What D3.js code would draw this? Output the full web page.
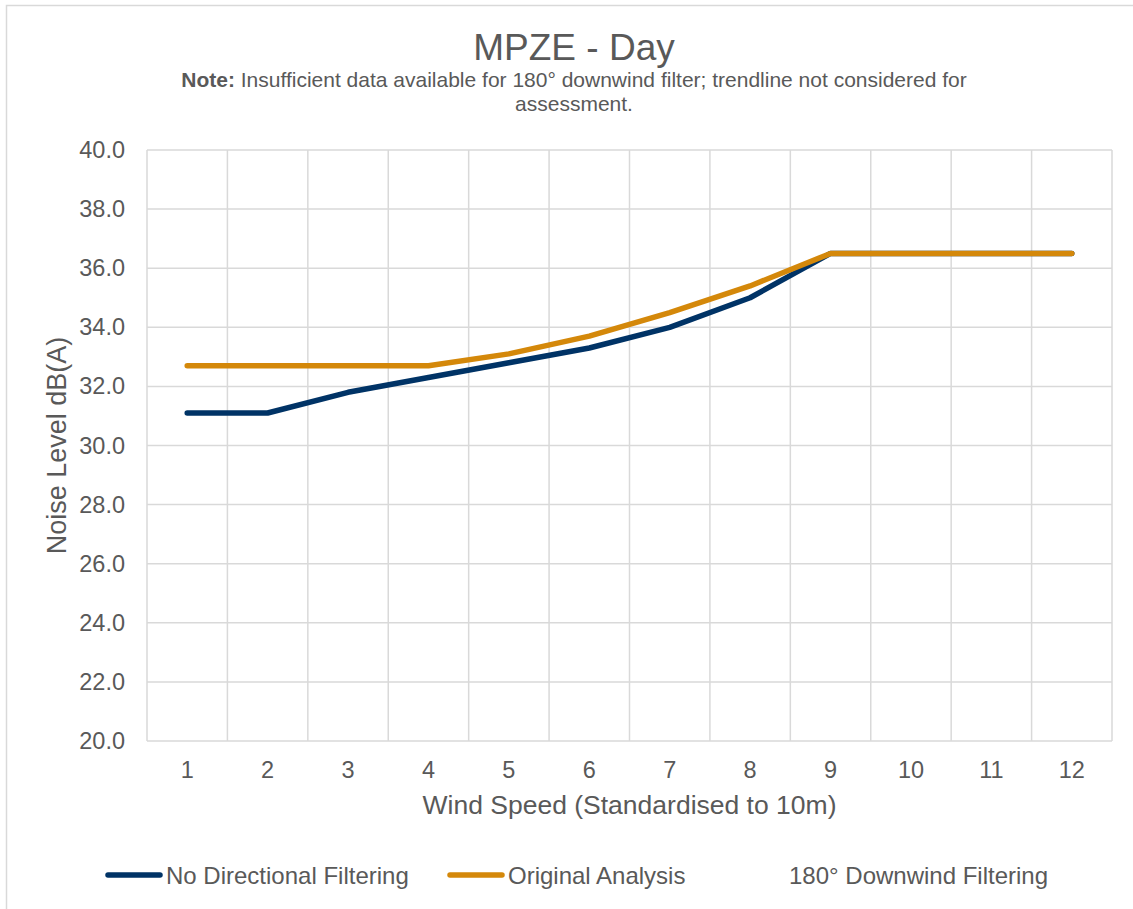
<!DOCTYPE html>
<html>
<head>
<meta charset="utf-8">
<script src="https://cdnjs.cloudflare.com/ajax/libs/d3/7.8.5/d3.min.js"></script>
<style>
  body { margin: 0; background: #fff; }
  text { font-family: "Liberation Sans", Arial, sans-serif; fill: #595959; }
</style>
</head>
<body>
<script>
// wind speed categories
var windSpeeds = [1, 2, 3, 4, 5, 6, 7, 8, 9, 10, 11, 12];
var noFiltering = [31.1, 31.1, 31.8, 32.3, 32.8, 33.3, 34.0, 35.0, 36.5, 36.5, 36.5, 36.5];
var originalAnalysis = [32.7, 32.7, 32.7, 32.7, 33.1, 33.7, 34.5, 35.4, 36.5, 36.5, 36.5, 36.5];
var downwindFiltering = []; // insufficient data
var yTicks = [20, 22, 24, 26, 28, 30, 32, 34, 36, 38, 40];

var series = [
  { name: "No Directional Filtering", values: noFiltering, color: "#003366" },
  { name: "Original Analysis", values: originalAnalysis, color: "#D4880A" },
  { name: "180\u00B0 Downwind Filtering", values: downwindFiltering, color: "none" }
];

var W = 1133, H = 909;
var plot = { left: 147, right: 1112, top: 150, bottom: 741 };

var svg = d3.select("body").append("svg")
  .attr("width", W)
  .attr("height", H);

// chart border
svg.append("rect")
  .attr("x", 6.5).attr("y", 5.5)
  .attr("width", W + 10).attr("height", H + 10)
  .attr("fill", "none")
  .attr("stroke", "#d9d9d9")
  .attr("stroke-width", 1.5);

var x = d3.scaleBand()
  .domain(windSpeeds)
  .range([plot.left, plot.right]);

var y = d3.scaleLinear()
  .domain([20, 40])
  .range([plot.bottom, plot.top]);

// horizontal gridlines
svg.append("g").selectAll("line")
  .data(yTicks)
  .enter().append("line")
  .attr("x1", plot.left).attr("x2", plot.right)
  .attr("y1", function(d) { return y(d); })
  .attr("y2", function(d) { return y(d); })
  .attr("stroke", "#d9d9d9")
  .attr("stroke-width", 1.5);

// vertical gridlines at category boundaries
var bounds = windSpeeds.map(function(d) { return x(d); }).concat([plot.right]);
svg.append("g").selectAll("line")
  .data(bounds)
  .enter().append("line")
  .attr("x1", function(d) { return d; })
  .attr("x2", function(d) { return d; })
  .attr("y1", plot.top).attr("y2", plot.bottom)
  .attr("stroke", "#d9d9d9")
  .attr("stroke-width", 1.5);

// y axis labels
var yAxis = d3.axisLeft(y).tickValues(yTicks).tickSize(0).tickPadding(22)
  .tickFormat(d3.format(".1f"));
svg.append("g")
  .attr("transform", "translate(" + plot.left + ",0)")
  .call(yAxis)
  .call(function(g) { g.select(".domain").remove(); })
  .selectAll("text")
  .attr("font-size", "23.5px")
  .attr("font-family", "Liberation Sans, Arial, sans-serif")
  .attr("fill", "#595959");

// x axis labels
var xAxis = d3.axisBottom(x).tickSize(0).tickPadding(20);
svg.append("g")
  .attr("transform", "translate(0," + plot.bottom + ")")
  .call(xAxis)
  .call(function(g) { g.select(".domain").remove(); })
  .selectAll("text")
  .attr("font-size", "23.5px")
  .attr("font-family", "Liberation Sans, Arial, sans-serif")
  .attr("fill", "#595959");

// lines
var line = d3.line()
  .x(function(d, i) { return x(windSpeeds[i]) + x.bandwidth() / 2; })
  .y(function(d) { return y(d); });

svg.append("g").selectAll("path")
  .data(series.filter(function(s) { return s.values.length > 0; }))
  .enter().append("path")
  .attr("d", function(s) { return line(s.values); })
  .attr("fill", "none")
  .attr("stroke", function(s) { return s.color; })
  .attr("stroke-width", 5.5)
  .attr("stroke-linecap", "round")
  .attr("stroke-linejoin", "round");

// titles
svg.append("text")
  .attr("x", 574).attr("y", 60)
  .attr("text-anchor", "middle")
  .attr("font-size", "37px")
  .text("MPZE - Day");

var note = svg.append("text")
  .attr("x", 574).attr("y", 87)
  .attr("text-anchor", "middle")
  .attr("font-size", "21px");
note.append("tspan").attr("font-weight", "bold").text("Note:");
note.append("tspan").text(" Insufficient data available for 180\u00B0 downwind filter; trendline not considered for");

svg.append("text")
  .attr("x", 574).attr("y", 111)
  .attr("text-anchor", "middle")
  .attr("font-size", "21px")
  .text("assessment.");

svg.append("text")
  .attr("x", (plot.left + plot.right) / 2).attr("y", 814)
  .attr("text-anchor", "middle")
  .attr("font-size", "26.5px")
  .text("Wind Speed (Standardised to 10m)");

svg.append("text")
  .attr("transform", "translate(66," + ((plot.top + plot.bottom) / 2) + ") rotate(-90)")
  .attr("text-anchor", "middle")
  .attr("font-size", "27px")
  .text("Noise Level dB(A)");

// legend
var legendX = [108, 450, 731];
var legend = svg.append("g").selectAll("g")
  .data(series)
  .enter().append("g")
  .attr("transform", function(d, i) { return "translate(" + legendX[i] + ",875)"; });

legend.append("line")
  .attr("x1", 0).attr("x2", 52)
  .attr("y1", 0).attr("y2", 0)
  .attr("stroke", function(d) { return d.color; })
  .attr("stroke-width", 5.5)
  .attr("stroke-linecap", "round");

legend.append("text")
  .attr("x", 58).attr("y", 8.5)
  .attr("font-size", "24px")
  .text(function(d) { return d.name; });
</script>
</body>
</html>
